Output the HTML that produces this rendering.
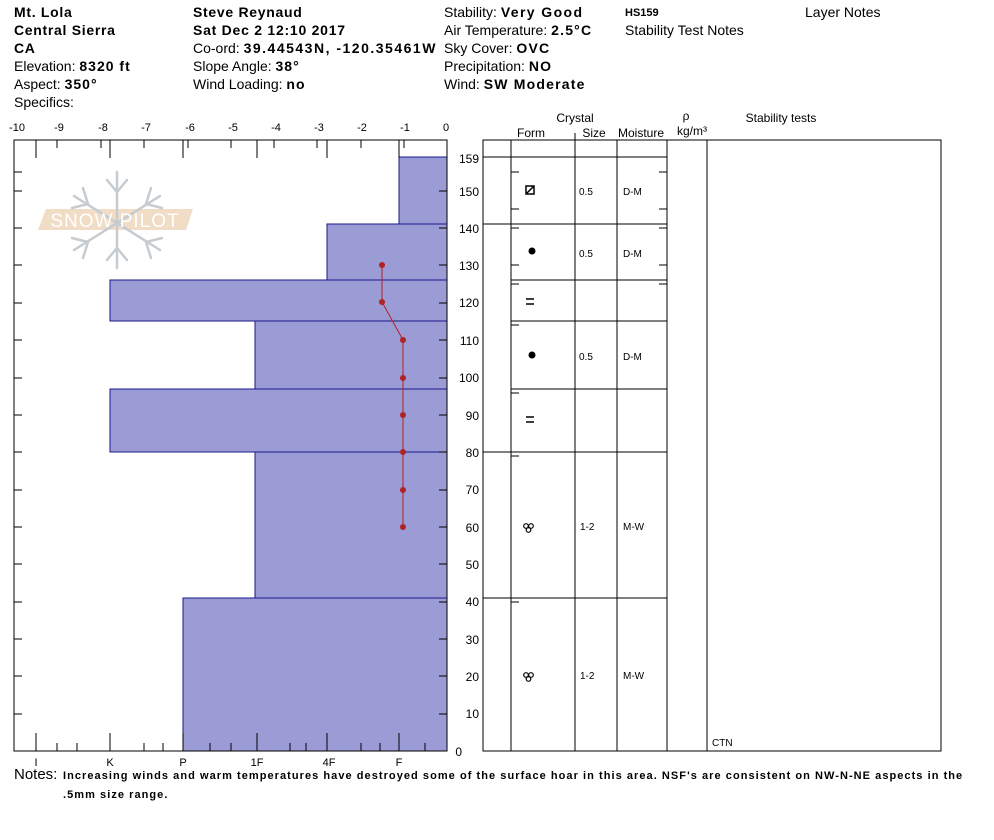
<!DOCTYPE html>
<html><head><meta charset="utf-8"><style>
body{margin:0;background:#fff;}
svg{display:block;font-family:"Liberation Sans",Arial,sans-serif;}
</style></head><body>
<svg width="994" height="840" viewBox="0 0 994 840" xmlns="http://www.w3.org/2000/svg">
<g font-size="14" fill="#000">
<text x="14" y="17" font-weight="bold" letter-spacing="0.7">Mt. Lola</text>
<text x="14" y="35" font-weight="bold" letter-spacing="0.7">Central Sierra</text>
<text x="14" y="53" font-weight="bold" letter-spacing="0.7">CA</text>
<text x="14" y="71">Elevation: <tspan font-weight="bold" letter-spacing="1">8320 ft</tspan></text>
<text x="14" y="89">Aspect: <tspan font-weight="bold" letter-spacing="1">350°</tspan></text>
<text x="14" y="107">Specifics:</text>
<text x="193" y="17" font-weight="bold" letter-spacing="0.7">Steve Reynaud</text>
<text x="193" y="35" font-weight="bold" letter-spacing="0.75">Sat Dec 2 12:10 2017</text>
<text x="193" y="53">Co-ord: <tspan font-weight="bold" letter-spacing="1.5">39.44543N, -120.35461W</tspan></text>
<text x="193" y="71">Slope Angle: <tspan font-weight="bold" letter-spacing="1">38°</tspan></text>
<text x="193" y="89">Wind Loading: <tspan font-weight="bold" letter-spacing="1">no</tspan></text>
<text x="444" y="17">Stability: <tspan font-weight="bold" letter-spacing="1.4">Very Good</tspan></text>
<text x="444" y="35">Air Temperature: <tspan font-weight="bold" letter-spacing="1.2">2.5°C</tspan></text>
<text x="444" y="53">Sky Cover: <tspan font-weight="bold" letter-spacing="1.2">OVC</tspan></text>
<text x="444" y="71">Precipitation: <tspan font-weight="bold" letter-spacing="1.2">NO</tspan></text>
<text x="444" y="89">Wind:  <tspan font-weight="bold" letter-spacing="1.2">SW Moderate</tspan></text>
<text x="625" y="16" font-size="11" font-weight="bold">HS159</text>
<text x="625" y="35">Stability Test Notes</text>
<text x="805" y="17">Layer Notes</text>
</g>
<!-- logo -->
<polygon points="46,209 193,209 186,230 38,230" fill="#f1dcc6"/>
<g stroke="#c4ccd2" stroke-width="2.5" fill="none" stroke-linecap="round">
<line x1="117" y1="172" x2="117" y2="268"/>
<line x1="74" y1="196" x2="160" y2="250"/>
<line x1="74" y1="250" x2="160" y2="196"/>
<path d="M107 180 L117 192 L127 180 M107 260 L117 248 L127 260 M83 188 L88 204 L72 208 M151 188 L146 204 L162 208 M83 258 L88 242 L72 238 M151 258 L146 242 L162 238"/>
</g>
<text x="115" y="227" font-size="19" fill="#fff" text-anchor="middle" letter-spacing="1">SNOW PILOT</text>
<!-- bars -->
<g fill="#9b9bd6" stroke="#1a1a8a" stroke-width="1">
<rect x="399" y="157" width="48" height="67"/>
<rect x="327" y="224" width="120" height="56"/>
<rect x="110" y="280" width="337" height="41"/>
<rect x="255" y="321" width="192" height="68"/>
<rect x="110" y="389" width="337" height="63"/>
<rect x="255" y="452" width="192" height="146"/>
<rect x="183" y="598" width="264" height="153"/>
</g>
<!-- axes -->
<g stroke="#000" stroke-width="1" fill="none">
<path d="M14 140 H447 V751 H14 Z"/>
<path d="M14 140v18 M36 140v18 M110 140v18 M183 140v18 M257 140v18 M327 140v18 M399 140v18 M57 140v8 M101 140v8 M144 140v8 M188 140v8 M231 140v8 M274 140v8 M317 140v8 M361 140v8 M404 140v8"/>
<path d="M36 751v-18 M110 751v-18 M183 751v-18 M257 751v-18 M327 751v-18 M399 751v-18 M57 751v-8 M77 751v-8 M144 751v-8 M163 751v-8 M210 751v-8 M231 751v-8 M290 751v-8 M306 751v-8 M361 751v-8 M380 751v-8 M425 751v-8"/>
<path d="M14 714h8 M14 676h8 M14 639h8 M14 602h8 M14 564h8 M14 527h8 M14 490h8 M14 452h8 M14 415h8 M14 378h8 M14 340h8 M14 303h8 M14 265h8 M14 228h8 M14 191h8 M14 172h8"/>
<path d="M447 714h-8 M447 676h-8 M447 639h-8 M447 602h-8 M447 564h-8 M447 527h-8 M447 490h-8 M447 452h-8 M447 415h-8 M447 378h-8 M447 340h-8 M447 303h-8 M447 265h-8 M447 228h-8 M447 191h-8"/>
</g>
<g font-size="11" text-anchor="middle">
<text x="17" y="131">-10</text><text x="59" y="131">-9</text><text x="103" y="131">-8</text><text x="146" y="131">-7</text><text x="190" y="131">-6</text><text x="233" y="131">-5</text><text x="276" y="131">-4</text><text x="319" y="131">-3</text><text x="362" y="131">-2</text><text x="405" y="131">-1</text><text x="446" y="131">0</text>
<text x="36" y="766">I</text><text x="110" y="766">K</text><text x="183" y="766">P</text><text x="257" y="766">1F</text><text x="329" y="766">4F</text><text x="399" y="766">F</text>
</g>
<!-- temp -->
<polyline points="382,265 382,302 403,340 403,378 403,415 403,452 403,490 403,527" fill="none" stroke="#b22222" stroke-width="1"/>
<g fill="#b22222"><circle cx="382" cy="265" r="3"/><circle cx="382" cy="302" r="3"/><circle cx="403" cy="340" r="3"/><circle cx="403" cy="378" r="3"/><circle cx="403" cy="415" r="3"/><circle cx="403" cy="452" r="3"/><circle cx="403" cy="490" r="3"/><circle cx="403" cy="527" r="3"/></g>
<!-- height labels -->
<g font-size="12" text-anchor="end">
<text x="479" y="163">159</text><text x="479" y="196">150</text><text x="479" y="233">140</text><text x="479" y="270">130</text><text x="479" y="307">120</text><text x="479" y="345">110</text><text x="479" y="382">100</text><text x="479" y="420">90</text><text x="479" y="457">80</text><text x="479" y="494">70</text><text x="479" y="532">60</text><text x="479" y="569">50</text><text x="479" y="606">40</text><text x="479" y="644">30</text><text x="479" y="681">20</text><text x="479" y="718">10</text><text x="462" y="756">0</text>
</g>
<!-- right table -->
<g stroke="#000" stroke-width="1" fill="none">
<path d="M483 140 H941 V751 H483 Z"/>
<path d="M511 140V751 M575 140V751 M617 140V751 M667 140V751 M707 140V751 M575 133v7"/>
<path d="M483 157H667 M483 224H667 M511 280H667 M511 321H667 M511 389H667 M483 452H667 M483 598H667"/>
<path d="M511 172h8 M511 209h8 M511 228h8 M511 265h8 M511 284h8 M511 325h8 M511 393h8 M511 456h8 M511 602h8 M667 172h-8 M667 209h-8 M667 228h-8 M667 265h-8 M667 284h-8"/>
</g>
<g font-size="12" text-anchor="middle">
<text x="575" y="122">Crystal</text>
<text x="531" y="137">Form</text><text x="594" y="137">Size</text><text x="641" y="137">Moisture</text>
<text x="686" y="120">ρ</text><text x="692" y="135">kg/m³</text>
<text x="781" y="122">Stability tests</text>
</g>
<g font-size="10">
<text x="579" y="195">0.5</text><text x="623" y="195">D-M</text>
<text x="579" y="257">0.5</text><text x="623" y="257">D-M</text>
<text x="579" y="360">0.5</text><text x="623" y="360">D-M</text>
<text x="580" y="530">1-2</text><text x="623" y="530">M-W</text>
<text x="580" y="679">1-2</text><text x="623" y="679">M-W</text>
<text x="712" y="746">CTN</text>
</g>
<rect x="526" y="186" width="8" height="8" fill="none" stroke="#000" stroke-width="1.5"/>
<line x1="526" y1="194" x2="534" y2="186" stroke="#000" stroke-width="1.5"/>
<circle cx="532" cy="251" r="3.5" fill="#000"/>
<circle cx="532" cy="355" r="3.5" fill="#000"/>
<g stroke="#000" stroke-width="1.5"><path d="M526 299h8 M526 304h8 M526 417h8 M526 422h8"/></g>
<g fill="none" stroke="#000" stroke-width="1.2"><circle cx="526" cy="526" r="2.3"/><circle cx="531" cy="526" r="2.3"/><circle cx="528.5" cy="530" r="2.3"/><circle cx="526" cy="675" r="2.3"/><circle cx="531" cy="675" r="2.3"/><circle cx="528.5" cy="679" r="2.3"/></g>
<!-- notes -->
<text x="14" y="779" font-size="15">Notes:</text>
<text x="63" y="779" font-size="11" font-weight="bold" letter-spacing="1.05">Increasing winds and warm temperatures have destroyed some of the surface hoar in this area.  NSF's are consistent on NW-N-NE aspects in the</text>
<text x="63" y="798" font-size="11" font-weight="bold" letter-spacing="1.05">.5mm size range.</text>
</svg>
</body></html>
